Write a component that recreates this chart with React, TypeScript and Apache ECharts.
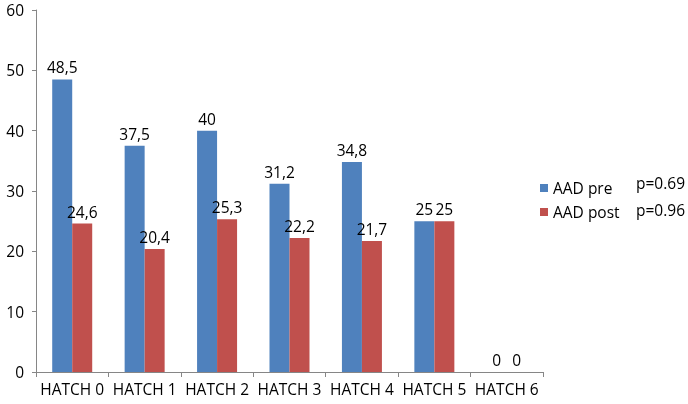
import React, { useEffect, useRef } from "react";
import * as echarts from "echarts";

const categories = ["HATCH 0", "HATCH 1", "HATCH 2", "HATCH 3", "HATCH 4", "HATCH 5", "HATCH 6"];
const aadPre = [48.5, 37.5, 40, 31.2, 34.8, 25, 0];
const aadPost = [24.6, 20.4, 25.3, 22.2, 21.7, 25, 0];
const seriesNames = ["AAD pre", "AAD post"];
const pValues = ["p=0.69", "p=0.96"];
const yTicks = { min: 0, max: 60, interval: 10 };

const FONT = "'Open Sans', 'Noto Sans', sans-serif";
const FS = 15.5;
const fmt = (v: number) => String(v).replace(".", ",");

export default function App() {
  const ref = useRef<HTMLDivElement>(null);
  useEffect(() => {
    if (!ref.current) return;
    const chart = echarts.init(ref.current, null, { renderer: "svg" });
    const label = {
      show: true,
      position: "top" as const,
      distance: 4,
      color: "#000",
      fontFamily: FONT,
      fontSize: FS,
      formatter: (p: any) => fmt(p.value),
    };
    chart.setOption({
      animation: false,
      grid: { left: 36, right: 145, top: 10, bottom: 32, containLabel: false },
      legend: {
        orient: "vertical",
        left: 535,
        top: 175,
        itemWidth: 8,
        itemHeight: 8,
        itemGap: 8,
        icon: "rect",
        data: seriesNames,
        textStyle: { fontFamily: FONT, fontSize: FS, color: "#000" },
      },
      graphic: pValues.map((p, i) => ({
        type: "text",
        left: 636,
        top: 175 + i * 27,
        style: { text: p, fontFamily: FONT, fontSize: FS, fill: "#000" },
      })),
      xAxis: {
        type: "category",
        data: categories,
        axisLine: { lineStyle: { color: "#868686" } },
        axisTick: { show: true, length: 5, alignWithLabel: false, lineStyle: { color: "#868686" } },
        axisLabel: { color: "#000", fontFamily: FONT, fontSize: FS, margin: 9, interval: 0 },
      },
      yAxis: {
        type: "value",
        min: yTicks.min,
        max: yTicks.max,
        interval: yTicks.interval,
        splitLine: { show: false },
        axisLine: { show: true, lineStyle: { color: "#868686" } },
        axisTick: { show: true, length: 4, lineStyle: { color: "#868686" } },
        axisLabel: { color: "#000", fontFamily: FONT, fontSize: FS, margin: 12 },
      },
      series: [
        {
          name: seriesNames[0],
          type: "bar",
          data: aadPre,
          barWidth: 20,
          barGap: "0%",
          itemStyle: { color: "#4F81BD" },
          label,
        },
        {
          name: seriesNames[1],
          type: "bar",
          data: aadPost,
          barWidth: 20,
          barGap: "0%",
          itemStyle: { color: "#C0504D" },
          label,
        },
      ],
    });
    return () => chart.dispose();
  }, []);
  return <div ref={ref} style={{ position: "fixed", left: 0, top: 0, width: 688, height: 404 }} />;
}
